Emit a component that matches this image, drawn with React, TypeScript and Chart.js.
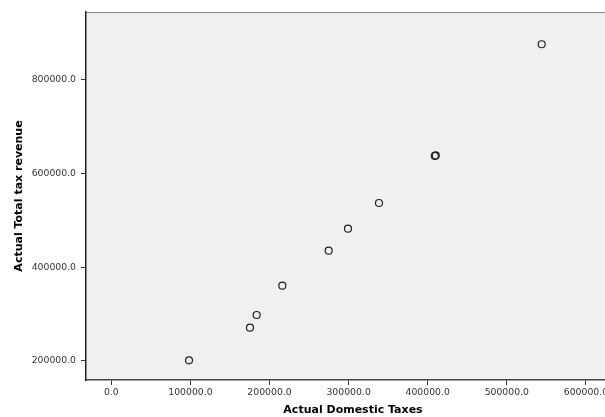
import React, { useEffect, useRef } from "react";
import { Chart, registerables } from "chart.js";

Chart.register(...registerables);

const domesticTaxes = [98200, 175300, 183800, 216200, 274800, 299200, 338400, 409000, 410200, 544100];
const totalRevenue = [201500, 270900, 298000, 360400, 434900, 481800, 536500, 636800, 637800, 874600];
const xTickValues = [0, 100000, 200000, 300000, 400000, 500000, 600000];
const yTickValues = [200000, 400000, 600000, 800000];
const xTitle = "Actual Domestic Taxes";
const yTitle = "Actual Total tax revenue";

const bgPlugin = {
  id: "plotBg",
  beforeDraw(chart: any) {
    const { ctx, chartArea } = chart;
    ctx.save();
    ctx.fillStyle = "#f0f0f0";
    ctx.fillRect(chartArea.left, chartArea.top, chartArea.right - chartArea.left, chartArea.bottom - chartArea.top);
    ctx.strokeStyle = "#8a8a8a";
    ctx.lineWidth = 1;
    ctx.beginPath();
    ctx.moveTo(chartArea.left, chartArea.top + 0.5);
    ctx.lineTo(chartArea.right, chartArea.top + 0.5);
    ctx.stroke();
    ctx.restore();
  },
};

export default function App() {
  const ref = useRef<HTMLCanvasElement | null>(null);
  useEffect(() => {
    if (!ref.current) return;
    const tickFont = { family: "'DejaVu Sans', sans-serif", size: 9.3 };
    const titleFont = { family: "'DejaVu Sans', sans-serif", size: 11, weight: "bold" as const };
    const chart = new Chart(ref.current, {
      type: "scatter",
      data: {
        datasets: [
          {
            data: domesticTaxes.map((x, i) => ({ x, y: totalRevenue[i] })),
            pointRadius: 3.5,
            pointHoverRadius: 3.5,
            pointBorderWidth: 1.2,
            borderColor: "#222",
            backgroundColor: "rgba(0,0,0,0)",
            pointBackgroundColor: "rgba(0,0,0,0)",
          },
        ],
      },
      options: {
        responsive: false,
        animation: false,
        layout: { padding: { top: 12, right: 20, left: 0, bottom: 0 } },
        plugins: { legend: { display: false }, tooltip: { enabled: false } },
        scales: {
          x: {
            type: "linear",
            min: -32000,
            max: 643100,
            afterBuildTicks: (axis: any) => {
              axis.ticks = xTickValues.map((v) => ({ value: v }));
            },
            afterFit: (axis: any) => {
              axis.height = 37;
            },
            ticks: {
              callback: (v: any) => Number(v).toFixed(1),
              font: tickFont,
              color: "#333",
              padding: 2,
              maxRotation: 0,
            },
            grid: { display: true, drawOnChartArea: false, drawTicks: true, tickLength: 5, color: "#333" },
            border: { display: true, color: "#444", width: 1.5 },
            title: { display: true, text: xTitle, font: titleFont, color: "#000", padding: { top: 0, bottom: 0 } },
          },
          y: {
            type: "linear",
            min: 159530,
            max: 943340,
            afterBuildTicks: (axis: any) => {
              axis.ticks = yTickValues.map((v) => ({ value: v }));
            },
            afterFit: (axis: any) => {
              axis.width = 86;
            },
            ticks: {
              callback: (v: any) => Number(v).toFixed(1),
              font: tickFont,
              color: "#333",
              padding: 5,
            },
            grid: { display: true, drawOnChartArea: false, drawTicks: true, tickLength: 5, color: "#333" },
            border: { display: true, color: "#222", width: 1.5 },
            title: { display: true, text: yTitle, font: titleFont, color: "#000", padding: { top: 13, bottom: 0 } },
          },
        },
      },
      plugins: [bgPlugin],
    } as any);
    return () => chart.destroy();
  }, []);
  return (
    <div style={{ position: "fixed", left: 0, top: 0, width: 605, height: 417, overflow: "hidden", background: "#fff" }}>
      <canvas ref={ref} width={640} height={417} style={{ width: 640, height: 417, display: "block" }} />
    </div>
  );
}
